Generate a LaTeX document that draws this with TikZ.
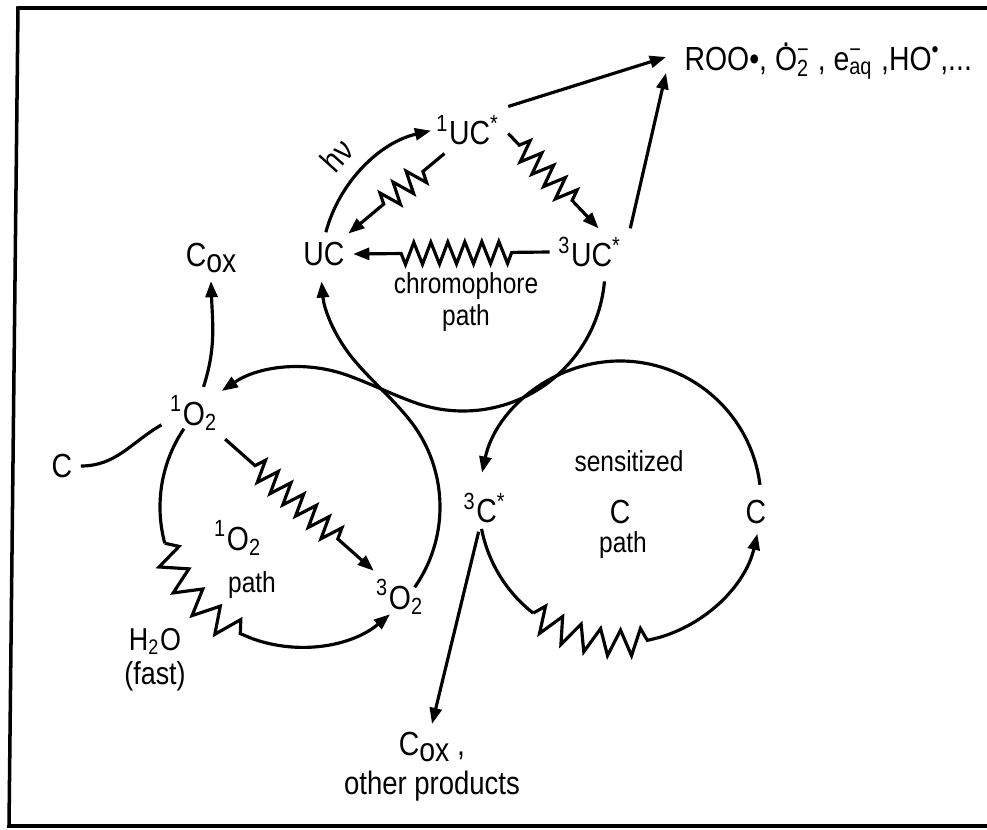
\documentclass[tikz,border=0pt]{standalone}
\usepackage{fontspec}
\setmainfont{Liberation Sans}[FakeStretch=0.85]
\usepackage{tikz}
\usetikzlibrary{arrows.meta,calc,decorations.pathmorphing}
\newcommand\supsub[2]{\rlap{\textsuperscript{#1}}\textsubscript{#2}}
\newcommand\dotO{\ooalign{O\cr\hidewidth\raisebox{0.72em}{.}\hidewidth\cr}}
\tikzset{
  lbl/.style={font=\fontsize{9.5}{11}\selectfont,inner sep=2pt},
  sm/.style={font=\fontsize{8.2}{9}\selectfont,inner sep=1pt},
  arr/.style={-{Triangle[length=4.6pt,width=3.4pt]}},
  zz/.style 2 args={decorate,decoration={zigzag,segment length=1.7mm,amplitude=1.1mm,pre length=#1,post length=#2}},
  zzc/.style={decorate,decoration={zigzag,segment length=#1,amplitude=1.3mm}}
}

\begin{document}
\begin{tikzpicture}[x=0.01cm,y=0.01cm,line width=0.9pt]
  \useasboundingbox (0,0) rectangle (987,829);
  \draw[line width=1pt] (990,821) -- (18,821) -- (9,3) -- (990,3);
  % circle centres
  \coordinate (ct) at (463,560);
  \coordinate (cl) at (300,322);
  \coordinate (cr) at (620,327);
  % chromophore path
  \node[lbl] (uc) at (324,575) {UC};
  \node[lbl] (uc1) at (468,699) {\textsuperscript{1}UC\textsuperscript{*}};
  \node[lbl] (uc3) at (590,577) {\textsuperscript{3}UC\textsuperscript{*}};
  \node[lbl,anchor=west] (roo) at (676,766) {ROO•, \dotO\supsub{−}{2} , e\supsub{−}{aq} ,HO\textsuperscript{•},...};
  \node[lbl,rotate=48] (hv) at (337,674) {hν};
  \node[sm,align=center] (chrom) at (466,527) {chromophore\\path};
  \draw[arr] (ct) ++(165:142) arc[start angle=165,end angle=103,radius=142];
  \draw[arr,zz={3.8mm}{4.3mm}] (uc3.west) -- (uc.east);
  \draw[arr,zz={2.8mm}{3.9mm}] (uc1.225) -- (uc.40);
  \draw[arr,zz={1.6mm}{3mm}] (uc1.-5) -- (uc3.70);
  \draw[arr] (uc1.north east) -- ([xshift=-1mm,yshift=0.6mm]roo.west);
  \draw[arr] (uc3.north east) -- ([xshift=-1mm,yshift=-1mm]roo.west);
  % singlet oxygen path
  \node[lbl] (cox1) at (211,571) {C\raisebox{-0.3ex}{ox}};
  \node[lbl] (o1) at (194,416) {\textsuperscript{1}O\textsubscript{2}};
  \node[lbl] (cl0) at (62,363) {C};
  \node[lbl] (o1lab) at (238,291) {\textsuperscript{1}O\textsubscript{2}};
  \node[sm] (o1path) at (252,244) {path};
  \node[lbl] (o3) at (400,232) {\textsuperscript{3}O\textsubscript{2}};
  \node[lbl,align=center,font=\fontsize{9}{9.6}\selectfont] (h2o) at (155,169) {H\textsubscript{2}O\\(fast)};
  \draw[arr] (ct) ++(-5:142) arc[start angle=-5,end angle=-110,radius=142]
    to[out=160,in=-20] ($(cl)+(70:140)$) arc[start angle=70,end angle=124,radius=140];
  \draw[arr] (cl) ++(-35:140) arc[start angle=-35,end angle=40,radius=140]
    to[out=130,in=-49] ($(ct)+(221:142)$) arc[start angle=221,end angle=185,radius=142];
  \draw (cl) ++(146:140) arc[start angle=146,end angle=195,radius=140];
  \draw[zzc=2.7mm] (cl) ++(195:140) arc[start angle=195,end angle=250,radius=140];
  \draw[arr] (cl) ++(250:140) arc[start angle=250,end angle=310,radius=140];
  \draw (cl0.east) to[out=0,in=-150] (o1.200);
  \draw[arr] (o1.70) to[out=72,in=-88] (cox1.south);
  \draw[arr,zz={4mm}{4mm}] (o1.-40) -- (o3.135);
  % sensitized C path
  \node[lbl] (c3) at (485,321) {\textsuperscript{3}C\textsuperscript{*}};
  \node[sm] (sens) at (629,368) {sensitized};
  \node[lbl] (senc) at (620,317) {C};
  \node[sm] (senp) at (623,284) {path};
  \node[lbl] (cr0) at (756,317) {C};
  \node[lbl,align=center] (cox2) at (432,62) {C\raisebox{-0.3ex}{ox} ,\\{\fontsize{9.2}{10}\selectfont other products}};
  \draw[arr] (cr) ++(7:141) arc[start angle=7,end angle=168,radius=141];
  \draw (cr) ++(191:141) arc[start angle=191,end angle=232,radius=141];
  \draw[zzc=2.2mm] (cr) ++(232:141) arc[start angle=232,end angle=285,radius=141];
  \draw[arr] (cr) ++(285:141) arc[start angle=285,end angle=347,radius=141];
  \draw[arr] (c3.-105) -- (cox2.north);
\end{tikzpicture}
\end{document}
